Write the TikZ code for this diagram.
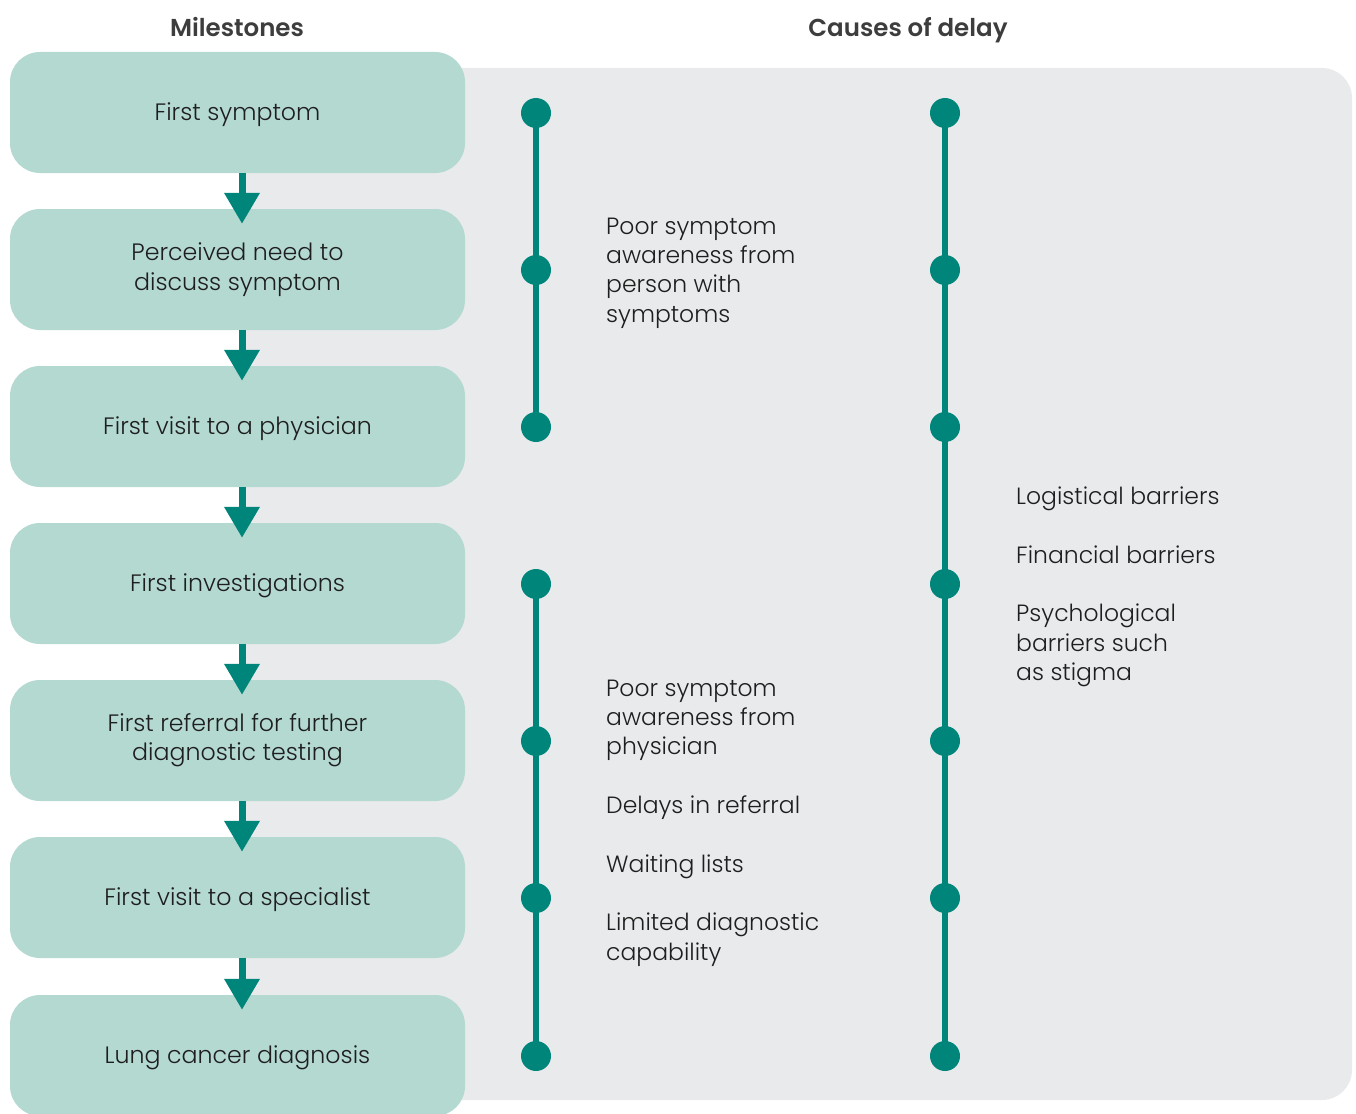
\documentclass[tikz,border=0pt]{standalone}
\usepackage{fontspec}
\setmainfont{Poppins}[UprightFont=* Light, BoldFont=* SemiBold]
\usetikzlibrary{arrows.meta}
\definecolor{teal}{HTML}{00857A}
\definecolor{boxfill}{HTML}{B4D9D1}
\definecolor{panel}{HTML}{E9EAEC}
\definecolor{ink}{HTML}{1E1E1E}
\definecolor{headink}{HTML}{3D3D3D}
\tikzset{
  milestone/.style={fill=boxfill, rounded corners=30pt, minimum width=455pt,
    minimum height=121pt, inner sep=0pt, align=center, text=ink,
    font=\fontsize{23.7}{29.3}\selectfont,
    execute at begin node={\rule{0pt}{22.5pt}}},
  flow/.style={draw=teal, line width=7pt,
    -{Triangle[width=34pt,length=31pt]}},
  dot/.style={circle, fill=teal, minimum size=30pt, inner sep=0pt},
  track/.style={draw=teal, line width=6pt},
  cause/.style={anchor=west, align=left, inner sep=0pt, text=ink,
    font=\fontsize{23.5}{29.3}\selectfont},
  head/.style={anchor=base, inner sep=0pt, text=headink,
    font=\fontsize{24.5}{28}\selectfont\bfseries}
}
\begin{document}
\begin{tikzpicture}[x=1pt, y=-1pt]
  \useasboundingbox (0,0) rectangle (1356,1113);
  \clip (0,0) rectangle (1356,1113);
  % grey background panel for the causes
  \fill[panel, rounded corners=30pt] (242,68) rectangle (1352,1100);

  % column headers
  \node[head] (h1) at (237,37) {Milestones};
  \node[head] (h2) at (908,37) {Causes of delay};

  % milestone boxes
  \node[milestone] (m1) at (237.5,112.5) {First symptom};
  \node[milestone] (m2) at (237.5,269.5) {Perceived need to\\discuss symptom};
  \node[milestone] (m3) at (237.5,426.5) {First visit to a physician};
  \node[milestone] (m4) at (237.5,583.5) {First investigations};
  \node[milestone] (m5) at (237.5,740.5) {First referral for further\\diagnostic testing};
  \node[milestone] (m6) at (237.5,897.5) {First visit to a specialist};
  \node[milestone] (m7) at (237.5,1055.5) {Lung cancer diagnosis};

  % arrows between milestones
  \foreach \a/\b in {m1/m2,m2/m3,m3/m4,m4/m5,m5/m6,m6/m7}
    \draw[flow] ([xshift=4.5pt]\a.south) -- ([xshift=4.5pt,yshift=-15pt]\b.north);

  % dots on the two tracks
  \foreach \i/\y in {1/113,2/270,3/427,4/584,5/741,6/898,7/1056} {
    \coordinate (a\i) at (536,\y);
    \coordinate (b\i) at (945,\y);
  }
  \draw[track] (a1) -- (a3);
  \draw[track] (a4) -- (a7);
  \draw[track] (b1) -- (b7);
  \foreach \i in {1,...,7} {
    \node[dot] (da\i) at (a\i) {};
    \node[dot] (db\i) at (b\i) {};
  }

  % causes of delay
  \node[cause] (c1) at (606,273) {Poor symptom\\awareness from\\person with\\symptoms};
  \node[cause] (c2) at (606,823) {Poor symptom\\awareness from\\physician\\[29.3pt]Delays in referral\\[29.3pt]Waiting lists\\[29.3pt]Limited diagnostic\\capability};
  \node[cause] (c3) at (1016,587) {Logistical barriers\\[29.3pt]Financial barriers\\[29.3pt]Psychological\\barriers such\\as stigma};
\end{tikzpicture}
\end{document}
